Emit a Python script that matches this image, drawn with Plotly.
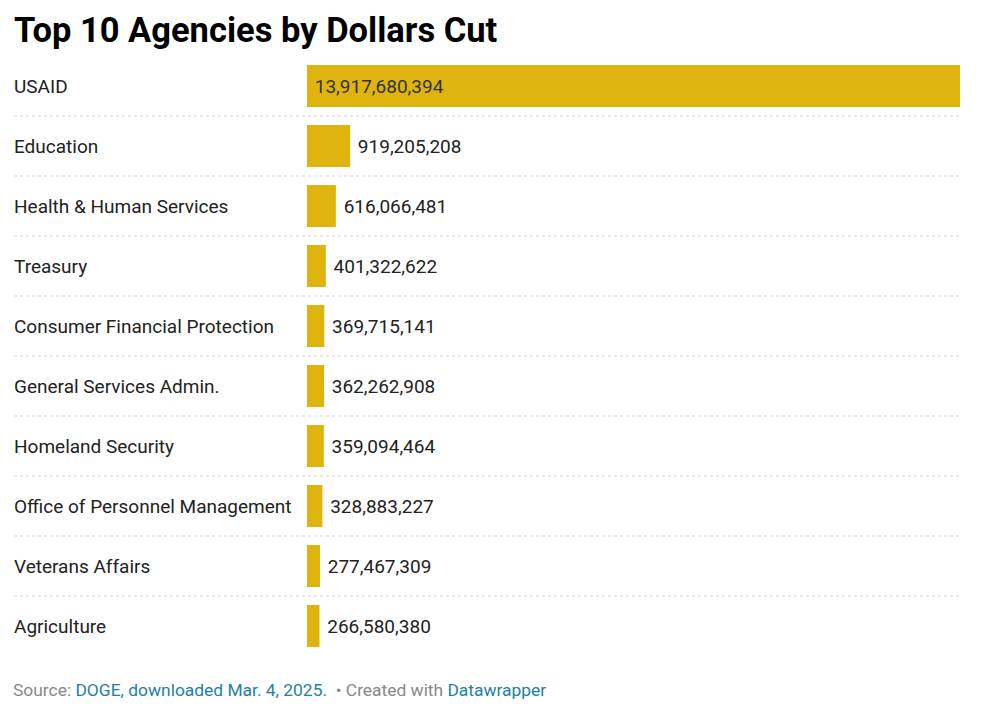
import plotly.graph_objects as go

agencies = ["USAID", "Education", "Health & Human Services", "Treasury",
            "Consumer Financial Protection", "General Services Admin.",
            "Homeland Security", "Office of Personnel Management",
            "Veterans Affairs", "Agriculture"]
dollars_cut = [13917680394, 919205208, 616066481, 401322622, 369715141,
               362262908, 359094464, 328883227, 277467309, 266580380]

title_text = "Top 10 Agencies by Dollars Cut"
BAR = "#e0b40e"
FONT = "Roboto, Arial, sans-serif"

W, H = 1000, 715
OFF = 8  # page body margin offset
ML, MR, MT, MB = 0, 48, 48, 67
PW = W - ML - MR
PH = H - MT - MB

def px_x(p):  # screen pixel -> paper
    return (p - OFF - ML) / PW

def px_y(p):
    return (H - MB - (p - OFF)) / PH

NB = "\u00a0"
labels = [NB + f"{v:,}" for v in dollars_cut]
positions = ["inside" if v == max(dollars_cut) else "outside" for v in dollars_cut]

fig = go.Figure(go.Bar(
    x=dollars_cut, y=agencies, orientation="h",
    marker=dict(color=BAR, line=dict(width=0)),
    width=0.7,
    text=labels, textposition=positions,
    insidetextanchor="start",
    textfont=dict(family=FONT, size=19, color="#222"),
    insidetextfont=dict(family=FONT, size=19, color="#333"),
    outsidetextfont=dict(family=FONT, size=19, color="#222"),
    cliponaxis=False,
    hoverinfo="skip",
))

shapes = []
for i in range(len(agencies) - 1):
    shapes.append(dict(type="line", xref="paper", yref="y",
                       x0=px_x(14), x1=1, y0=i + 0.5, y1=i + 0.5,
                       line=dict(color="#d6d6d6", width=1, dash="dot")))

annotations = []
for a in agencies:
    annotations.append(dict(text=a, x=px_x(12), xref="paper", y=a, yref="y",
                            xanchor="left", yanchor="middle", showarrow=False,
                            font=dict(family=FONT, size=19, color="#222")))

annotations.append(dict(text=f"<b>{title_text}</b>", x=px_x(12), xref="paper",
                        y=px_y(30), yref="paper", xanchor="left", yanchor="middle",
                        showarrow=False, font=dict(family=FONT, size=34.5, color="#000")))

annotations.append(dict(
    text=("<span style='color:#888'>Source: </span>"
          "<span style='color:#1d81a2'>DOGE, downloaded Mar. 4, 2025.</span>"
          "<span style='color:#888'>  • Created with </span>"
          "<span style='color:#1d81a2'>Datawrapper</span>"),
    x=px_x(11), xref="paper", y=px_y(690), yref="paper",
    xanchor="left", yanchor="middle", showarrow=False,
    font=dict(family=FONT, size=17.4, color="#888")))

fig.update_layout(
    width=W, height=H,
    margin=dict(l=ML, r=MR, t=MT, b=MB, pad=0),
    paper_bgcolor="white", plot_bgcolor="white",
    showlegend=False,
    xaxis=dict(domain=[px_x(307), 1], range=[0, max(dollars_cut)],
               visible=False, fixedrange=True),
    yaxis=dict(type="category", categoryorder="array", categoryarray=agencies,
               range=[len(agencies) - 0.5, -0.5], visible=False, fixedrange=True),
    shapes=shapes, annotations=annotations,
    uniformtext=dict(mode=False),
)

fig.write_html("out.html", config={"displayModeBar": False})
